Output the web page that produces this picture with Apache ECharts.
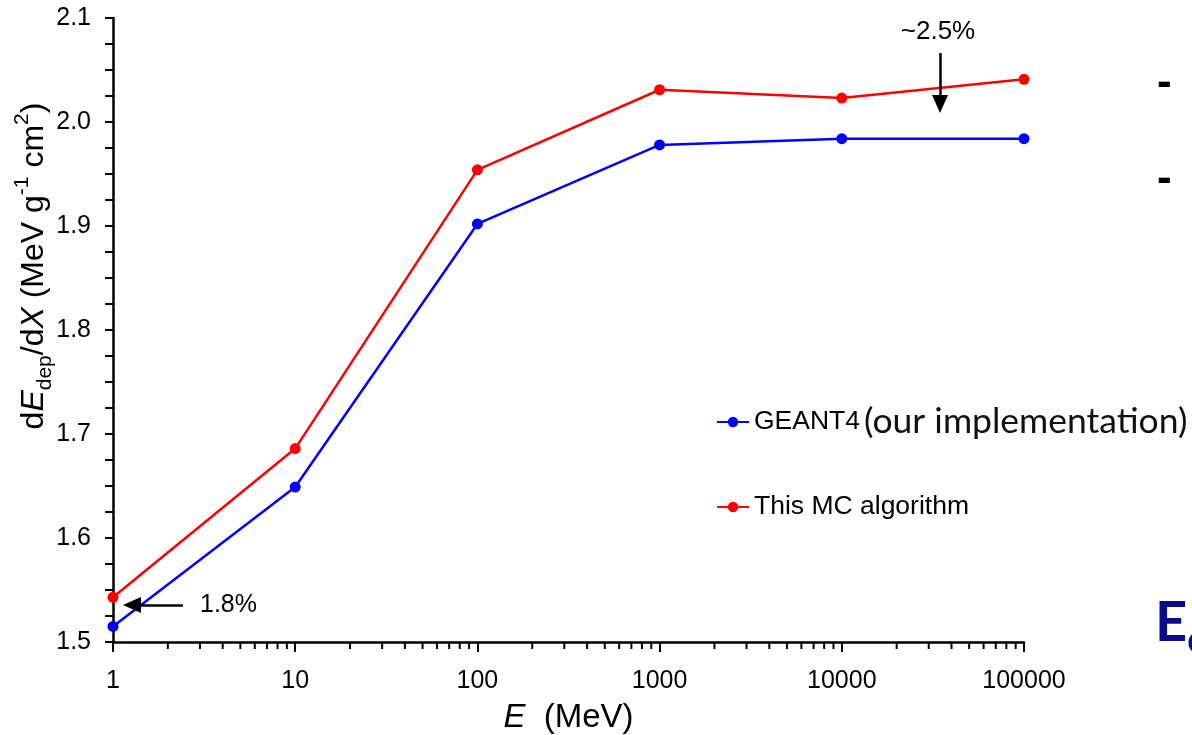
<!DOCTYPE html>
<html>
<head>
<meta charset="utf-8">
<script src="https://cdn.jsdelivr.net/npm/echarts@6/dist/echarts.min.js"></script>
<style>
  html, body { margin: 0; padding: 0; background: #ffffff; }
  #chart { width: 1192px; height: 735px; }
</style>
</head>
<body>
<div id="chart"></div>
<script>
// Beam energy (MeV) on a log axis
const energies = [1, 10, 100, 1000, 10000, 100000];
// Deposited energy per unit mass thickness, MeV g^-1 cm^2
const geant4Values = [1.515, 1.649, 1.902, 1.978, 1.984, 1.984];
const mcValues = [1.543, 1.686, 1.954, 2.031, 2.023, 2.041];

const seriesNames = ['GEANT4', 'This MC algorithm'];
const xTickLabels = ['1', '10', '100', '1000', '10000', '100000'];
const yTickLabels = ['1.5', '1.6', '1.7', '1.8', '1.9', '2.0', '2.1'];
const yMin = 1.5, yMax = 2.1, yStep = 0.1;

// Minor tick positions 2..9 within every decade
const minorEnergies = [];
for (let d = 1; d < 100000; d *= 10) {
  for (let m = 2; m <= 9; m++) minorEnergies.push(m * d);
}

const FONT = 'Liberation Sans';

const chart = echarts.init(document.getElementById('chart'), null, { renderer: 'canvas' });

const option = {
  animation: false,
  backgroundColor: '#ffffff',
  grid: { left: 113, right: 168, top: 18, bottom: 93, containLabel: false, outerBoundsMode: 'none' },
  xAxis: {
    type: 'log',
    logBase: 10,
    min: 1,
    max: 100000,
    name: '{i|E}{n|  (MeV)}',
    nameLocation: 'middle',
    nameGap: 59,
    nameTextStyle: {
      rich: {
        i: { fontFamily: FONT, fontSize: 33, fontStyle: 'italic', color: '#000' },
        n: { fontFamily: FONT, fontSize: 33, color: '#000' }
      }
    },
    axisLine: { show: true, lineStyle: { color: '#000', width: 2.5 } },
    axisTick: { show: true, length: 10, lineStyle: { color: '#000', width: 2 } },
    axisLabel: {
      margin: 27,
      fontFamily: FONT,
      fontSize: 25,
      color: '#000',
      formatter: v => xTickLabels[Math.round(Math.log10(v))]
    },
    splitLine: { show: false }
  },
  yAxis: {
    type: 'value',
    min: yMin,
    max: yMax,
    interval: yStep,
    axisLine: { show: true, lineStyle: { color: '#000', width: 2.5 } },
    axisTick: { show: true, length: 8, lineStyle: { color: '#000', width: 2 } },
    minorTick: { show: true, splitNumber: 4, length: 8, lineStyle: { color: '#000', width: 2 } },
    axisLabel: {
      margin: 22,
      fontFamily: FONT,
      fontSize: 25,
      color: '#000',
      formatter: v => yTickLabels[Math.round((v - yMin) / yStep)]
    },
    splitLine: { show: false }
  },
  legend: [
    {
      data: [seriesNames[0]],
      left: 716,
      top: 404,
      padding: 0,
      itemWidth: 32,
      itemHeight: 13,
      selectedMode: false,
      formatter: '{a|GEANT4}{b|(our implementation)}',
      textStyle: {
        rich: {
          a: { fontFamily: FONT, fontSize: 26.5, color: '#000', lineHeight: 40 },
          b: { fontFamily: 'Lato', fontSize: 35.5, color: '#111', lineHeight: 40, padding: [0, 0, 0, 4] }
        }
      }
    },
    {
      data: [seriesNames[1]],
      left: 716,
      top: 492,
      padding: 0,
      itemWidth: 32,
      itemHeight: 13,
      selectedMode: false,
      textStyle: { fontFamily: FONT, fontSize: 26.5, color: '#000', lineHeight: 30 }
    }
  ],
  series: [
    {
      name: seriesNames[0],
      type: 'line',
      data: energies.map((e, i) => [e, geant4Values[i]]),
      symbol: 'circle',
      symbolSize: 11,
      itemStyle: { color: '#0000ff' },
      lineStyle: { color: '#0000ff', width: 2.5 },
      z: 3,
      markLine: {
        silent: true,
        symbol: ['none', 'triangle'],
        symbolSize: [16, 18],
        label: { show: false },
        lineStyle: { color: '#000', width: 2.5, type: 'solid' },
        data: [
          [{ coord: [2.42, 1.5356] }, { coord: [1.27, 1.5356] }],
          [{ coord: [34600, 2.0663] }, { coord: [34600, 2.0173] }]
        ]
      }
    },
    {
      name: seriesNames[1],
      type: 'line',
      data: energies.map((e, i) => [e, mcValues[i]]),
      symbol: 'circle',
      symbolSize: 11,
      itemStyle: { color: '#ff0000' },
      lineStyle: { color: '#ff0000', width: 2.5 },
      z: 3
    },
    {
      // minor ticks of the log axis
      name: 'minorTicks',
      type: 'custom',
      silent: true,
      clip: false,
      z: 5,
      data: minorEnergies.map(v => [v, yMin]),
      renderItem: (params, api) => {
        const p = api.coord([api.value(0), api.value(1)]);
        return {
          type: 'line',
          shape: { x1: p[0], y1: p[1], x2: p[0], y2: p[1] + 7 },
          style: { stroke: '#000', lineWidth: 2 }
        };
      }
    }
  ],
  graphic: [
    {
      type: 'text',
      x: 34,
      y: 266,
      rotation: Math.PI / 2,
      style: {
        text: '{n|d}{i|E}{sub|dep}{n|/d}{i|X}{n| (MeV g}{sup|-1}{n| cm}{sup|2}{n|)}',
        align: 'center',
        verticalAlign: 'middle',
        rich: {
          n: { fontFamily: FONT, fontSize: 32, lineHeight: 44, fill: '#000' },
          i: { fontFamily: FONT, fontSize: 32, fontStyle: 'italic', lineHeight: 44, fill: '#000' },
          sub: { fontFamily: FONT, fontSize: 21, lineHeight: 26, verticalAlign: 'bottom', fill: '#000' },
          sup: { fontFamily: FONT, fontSize: 21, lineHeight: 26, verticalAlign: 'top', fill: '#000' }
        }
      }
    },
    {
      type: 'text',
      x: 200,
      y: 605,
      style: { text: '1.8%', fontFamily: FONT, fontSize: 25, fill: '#000', align: 'left', verticalAlign: 'middle' }
    },
    {
      type: 'text',
      x: 938,
      y: 32,
      style: { text: '~2.5%', fontFamily: FONT, fontSize: 26, fill: '#000', align: 'center', verticalAlign: 'middle' }
    },
    {
      type: 'text',
      x: 1157,
      y: 84,
      style: { text: '-', fontFamily: FONT, fontWeight: 'bold', fontSize: 44, fill: '#000', align: 'left', verticalAlign: 'middle' }
    },
    {
      type: 'text',
      x: 1157,
      y: 180,
      style: { text: '-', fontFamily: FONT, fontWeight: 'bold', fontSize: 44, fill: '#000', align: 'left', verticalAlign: 'middle' }
    },
    {
      type: 'text',
      x: 1155,
      y: 623,
      style: {
        text: '{e|E}{s|dep}',
        align: 'left',
        verticalAlign: 'middle',
        rich: {
          e: { fontFamily: 'Lato', fontWeight: 'bold', fontSize: 56, lineHeight: 70, fill: '#0b0b8c' },
          s: { fontFamily: 'Lato', fontWeight: 'bold', fontSize: 36, lineHeight: 26, verticalAlign: 'bottom', fill: '#0b0b8c' }
        }
      }
    }
  ]
};

chart.setOption(option);
</script>
</body>
</html>
